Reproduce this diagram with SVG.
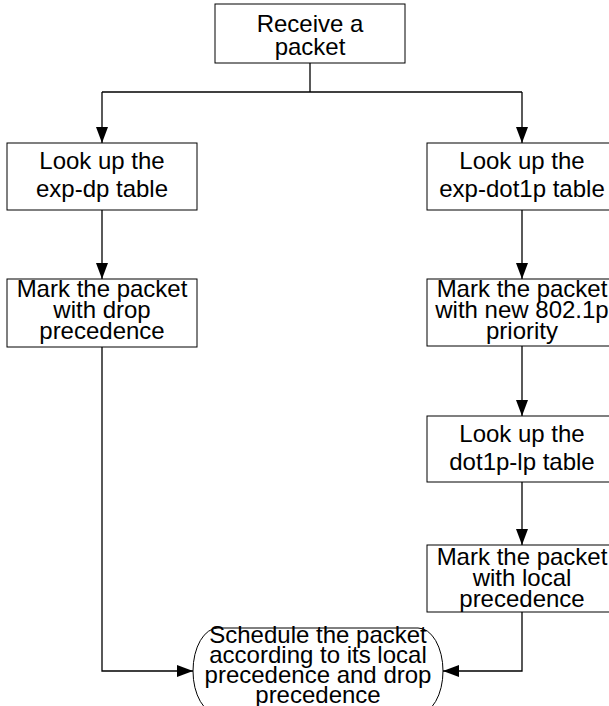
<svg xmlns="http://www.w3.org/2000/svg" width="609" height="706" viewBox="0 0 609 706">
  <style>
    .box { fill: #ffffff; stroke: #000000; stroke-width: 1; }
    .lbl { font-family: "Liberation Sans", Arial, sans-serif; font-size: 24px; fill: #000000; text-anchor: middle; }
    .edge { fill: none; stroke: #000000; stroke-width: 1.3; }
  </style>
  <defs>
    <marker id="arrow" viewBox="0 0 16 12" refX="16" refY="6" markerWidth="16" markerHeight="12" markerUnits="userSpaceOnUse" orient="auto">
      <path d="M0,0 L16,6 L0,12 Z" fill="#000000"/>
    </marker>
  </defs>

  <rect width="609" height="706" fill="#ffffff"/>

  <g id="connectors">
    <path class="edge" d="M310,63 V92"/>
    <path class="edge" d="M102,92 H522"/>
    <path class="edge" d="M102,92 V143" marker-end="url(#arrow)"/>
    <path class="edge" d="M522,92 V143" marker-end="url(#arrow)"/>
    <path class="edge" d="M102,210 V279" marker-end="url(#arrow)"/>
    <path class="edge" d="M522,210 V279" marker-end="url(#arrow)"/>
    <path class="edge" d="M522,346 V416" marker-end="url(#arrow)"/>
    <path class="edge" d="M522,482 V545" marker-end="url(#arrow)"/>
    <path class="edge" d="M102,347 V671 H193" marker-end="url(#arrow)"/>
    <path class="edge" d="M522,612 V671 H443" marker-end="url(#arrow)"/>
  </g>

  <g id="receive">
    <rect class="box" x="215" y="4" width="190" height="59"/>
    <text class="lbl" x="310" y="32">Receive a</text>
    <text class="lbl" x="310" y="55">packet</text>
  </g>

  <g id="lookup-exp-dp">
    <rect class="box" x="7" y="143" width="190" height="67"/>
    <text class="lbl" x="102" y="169">Look up the</text>
    <text class="lbl" x="102" y="197">exp-dp table</text>
  </g>

  <g id="mark-drop">
    <rect class="box" x="7" y="279" width="190" height="68"/>
    <text class="lbl" x="102" y="297">Mark the packet</text>
    <text class="lbl" x="102" y="318">with drop</text>
    <text class="lbl" x="102" y="339">precedence</text>
  </g>

  <g id="lookup-exp-dot1p">
    <rect class="box" x="427" y="143" width="190" height="67"/>
    <text class="lbl" x="522" y="169">Look up the</text>
    <text class="lbl" x="522" y="197">exp-dot1p table</text>
  </g>

  <g id="mark-8021p">
    <rect class="box" x="427" y="279" width="190" height="67"/>
    <text class="lbl" x="522" y="297">Mark the packet</text>
    <text class="lbl" x="522" y="318">with new 802.1p</text>
    <text class="lbl" x="522" y="339">priority</text>
  </g>

  <g id="lookup-dot1p-lp">
    <rect class="box" x="427" y="416" width="190" height="66"/>
    <text class="lbl" x="522" y="442">Look up the</text>
    <text class="lbl" x="522" y="470">dot1p-lp table</text>
  </g>

  <g id="mark-local">
    <rect class="box" x="427" y="545" width="190" height="67"/>
    <text class="lbl" x="522" y="565">Mark the packet</text>
    <text class="lbl" x="522" y="586">with local</text>
    <text class="lbl" x="522" y="607">precedence</text>
  </g>

  <g id="schedule">
    <rect class="box" x="193" y="628" width="250" height="86" rx="25" ry="43"/>
    <text class="lbl" x="318" y="643">Schedule the packet</text>
    <text class="lbl" x="318" y="663">according to its local</text>
    <text class="lbl" x="318" y="683">precedence and drop</text>
    <text class="lbl" x="318" y="703">precedence</text>
  </g>
</svg>
